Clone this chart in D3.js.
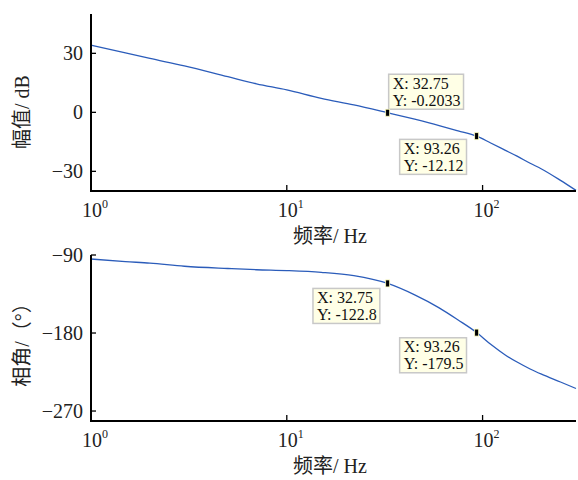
<!DOCTYPE html>
<html lang="zh">
<head>
<meta charset="utf-8">
<title>bode</title>
<script src="https://d3js.org/d3.v7.min.js"></script>
<style>
    body{margin:0;background:#fff;}
    svg{font-family:"Liberation Serif","Noto Sans CJK SC",serif;}
</style>
</head>
<body>
<div id="chart"></div>
<script>
// values
var freq     = [1, 1.5, 2, 3, 5, 7, 10, 15, 22, 32.75, 45, 60, 75, 93.26, 110, 130, 150, 175, 200, 250, 300]
var magDb    = [34.2, 30.2, 27.4, 23.6, 18.1, 14.5, 11.4, 7.1, 3.8, -0.2033, -3.5, -6.7, -9.4, -12.12, -15.6, -19.2, -22.3, -25.9, -28.8, -34.6, -39.7]
var phaseDeg = [-94.6, -97.6, -99.4, -103, -105.6, -107, -108, -110, -113.8, -122.8, -136, -151, -165, -179.5, -193, -205, -213.5, -221.5, -227.5, -236.5, -244]

var tipFreq  = [32.75, 93.26]
var tipMag   = [-0.2033, -12.12]
var tipPhase = [-122.8, -179.5]

var xTicks     = [1, 10, 100]
var magTicks   = [-30, 0, 30]
var phaseTicks = [-270, -180, -90]

var w = 578, h = 480
var svg = d3.select("#chart").append("svg").attr("width", w).attr("height", h)

var x = d3.scaleLog().domain([1, 300]).range([91, 576])
var yMag = d3.scaleLinear().domain([-40, 50]).range([191, 14])
var yPh  = d3.scaleLinear().domain([-281.5, -90]).range([421, 255])

var blue = "#2b5cba"

function drawPanel(y, vals, yTicks, yTitle, titleY, tips, tipOffsets){
    var g = svg.append("g")
    var x0 = x.range()[0], x1 = x.range()[1]
    var yb = y.range()[0], yt = y.range()[1]

    // curve
    var line = d3.line()
        .x(function(d, i){ return x(freq[i]) })
        .y(function(d){ return y(d) })
        .curve(d3.curveMonotoneX)
    g.append("path").datum(vals)
        .attr("d", line).attr("fill", "none")
        .attr("stroke", blue).attr("stroke-width", 1.3)

    // axes lines
    g.append("line").attr("x1", x0).attr("x2", x0).attr("y1", yt).attr("y2", yb + 1)
        .attr("stroke", "#000").attr("stroke-width", 2)
    g.append("line").attr("x1", x0 - 1).attr("x2", x1).attr("y1", yb).attr("y2", yb)
        .attr("stroke", "#000").attr("stroke-width", 2)

    // y ticks
    yTicks.forEach(function(t){
        g.append("line").attr("x1", x0).attr("x2", x0 + 5).attr("y1", y(t)).attr("y2", y(t))
            .attr("stroke", "#000").attr("stroke-width", 1.3)
        g.append("text").attr("x", 83).attr("y", y(t)).attr("dy", "0.35em")
            .attr("text-anchor", "end").attr("font-size", 20).attr("fill", "#222")
            .text(t < 0 ? "\u2212" + Math.abs(t) : t)
    })

    // x ticks
    xTicks.forEach(function(t){
        var px = x(t)
        if (t > 1) {
            g.append("line").attr("x1", px).attr("x2", px).attr("y1", yb).attr("y2", yb - 6)
                .attr("stroke", "#000").attr("stroke-width", 1.3)
        }
        var lab = g.append("text").attr("x", px - 9).attr("y", yb + 26)
            .attr("font-size", 20).attr("fill", "#222")
        lab.append("tspan").text("10")
        lab.append("tspan").attr("dy", -9).attr("font-size", 12).text(Math.round(Math.log10(t)))
    })

    // titles
    g.append("text").attr("x", 330).attr("y", yb + 52)
        .attr("text-anchor", "middle").attr("font-size", 20).attr("fill", "#222")
        .text("频率/ Hz")
    g.append("text").attr("transform", "translate(29," + titleY + ") rotate(-90)")
        .attr("text-anchor", "middle").attr("font-size", 20).attr("fill", "#222")
        .text(yTitle)

    // data tips
    tips.forEach(function(v, i){
        var px = x(tipFreq[i]), py = y(v)
        var off = tipOffsets[i]
        var tg = g.append("g").attr("transform", "translate(" + (px + off[0]) + "," + (py + off[1]) + ")")
        var box = tg.append("rect").attr("fill", "#ffffe6").attr("stroke", "#c8c8c8").attr("stroke-width", 1.5)
        var t1 = tg.append("text").attr("x", 4).attr("y", 14.5).attr("font-size", 16).attr("fill", "#111")
            .text("X: " + tipFreq[i])
        var t2 = tg.append("text").attr("x", 4).attr("y", 31.5).attr("font-size", 16).attr("fill", "#111")
            .text("Y: " + v)
        var tw = Math.max(t1.node().getComputedTextLength(), t2.node().getComputedTextLength())
        box.attr("width", tw + 7).attr("height", 35)
        g.append("rect").attr("x", px - 2).attr("y", py - 3.5).attr("width", 4).attr("height", 7)
            .attr("fill", "#000").attr("stroke", "#ffffc0").attr("stroke-width", 0.8)
    })
}

drawPanel(yMag, magDb, magTicks, "幅值/ dB", 112, tipMag, [[1, -38.5], [-77, 3.2]])
drawPanel(yPh, phaseDeg, phaseTicks, "相角/（°）", 340, tipPhase, [[-74.7, 5], [-77, 5.2]])
</script>
</body>
</html>
